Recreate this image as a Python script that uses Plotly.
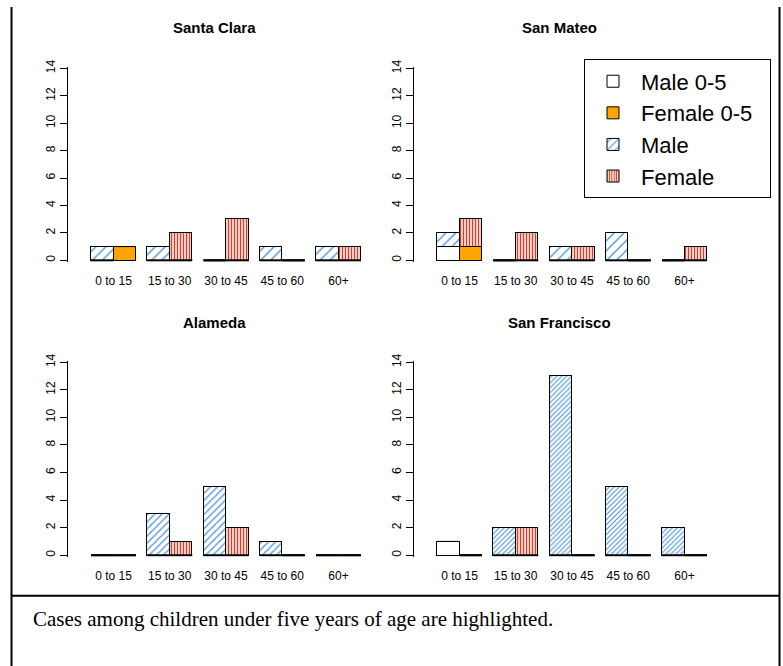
import plotly.graph_objects as go

# ---------------- data ----------------
age_groups = ["0 to 15", "15 to 30", "30 to 45", "45 to 60", "60+"]
counties = ["Santa Clara", "San Mateo", "Alameda", "San Francisco"]

# one row per county (same order as `counties`), one value per age group
male_under5 = [
    [0, 0, 0, 0, 0],
    [1, 0, 0, 0, 0],
    [0, 0, 0, 0, 0],
    [1, 0, 0, 0, 0],
]
female_under5 = [
    [1, 0, 0, 0, 0],
    [1, 0, 0, 0, 0],
    [0, 0, 0, 0, 0],
    [0, 0, 0, 0, 0],
]
male_other = [
    [1, 1, 0, 1, 1],
    [1, 0, 1, 2, 0],
    [0, 3, 5, 1, 0],
    [0, 2, 13, 5, 2],
]
female_other = [
    [0, 2, 3, 0, 1],
    [2, 2, 1, 0, 1],
    [0, 1, 2, 0, 0],
    [0, 2, 0, 0, 0],
]
y_ticks = [0, 2, 4, 6, 8, 10, 12, 14]
legend_names = ["Male 0-5", "Female 0-5", "Male", "Female"]
caption = "Cases among children under five years of age are highlighted."

# ---------------- styling / layout ----------------
W, H = 783, 666
SANS = "Arial, Liberation Sans, sans-serif"
SERIF = "Times New Roman, Liberation Serif, serif"
MALE_BLUE = "#4f95d8"
FEMALE_RED = "#d0402c"
ORANGE = "#ffa500"
male_hatch = [(7, 0.2), (7, 0.2), (5, 0.26), (3.5, 0.34)]  # (size, solidity) per panel
col_left = [68, 414]      # px of y-axis line
row_zero = [256, 554]     # px of y = 0
row_top = [62, 359]       # px of y = 14
dom_w = 316
first_center = 45.5       # px from axis line to first group centre
group_px = 56.25          # px per group
bar_w = 0.4
offs = {"m": -0.2, "f": 0.2}
pad = 0.12

fig = go.Figure()
layout_axes = {}

for k, county in enumerate(counties):
    r, c = divmod(k, 2)
    ax = "" if k == 0 else str(k + 1)
    xref, yref = "x" + ax, "y" + ax
    left = col_left[c]
    xr = [-first_center / group_px, (dom_w - first_center) / group_px]
    ppu = (row_zero[r] - row_top[r]) / 14.0
    bot_px = row_zero[r] + pad * ppu
    top_px = row_top[r] - pad * ppu
    layout_axes["xaxis" + ax] = dict(
        domain=[left / W, (left + dom_w) / W], range=xr, anchor=yref,
        showline=False, showgrid=False, zeroline=False,
        tickvals=list(range(len(age_groups))), ticktext=age_groups,
        ticks="", ticklabelstandoff=10,
        tickfont=dict(family=SANS, size=12, color="black"),
    )
    layout_axes["yaxis" + ax] = dict(
        domain=[1 - bot_px / H, 1 - top_px / H], range=[-pad, 14 + pad],
        anchor=xref, showline=True, linecolor="black", linewidth=1,
        showgrid=False, zeroline=False, tickvals=y_ticks,
        ticks="outside", ticklen=7, tickcolor="black", tickwidth=1,
        tickangle=-90, tickfont=dict(family=SANS, size=12, color="black"),
    )

    xs_m = [i + offs["m"] for i in range(len(age_groups))]
    xs_f = [i + offs["f"] for i in range(len(age_groups))]
    show = k == 0
    line = dict(color="black", width=1)
    msize, msol = male_hatch[k]

    fig.add_trace(go.Bar(
        x=xs_m, y=male_under5[k], width=bar_w, name=legend_names[0],
        legendgroup="m5", legendrank=1, showlegend=show,
        marker=dict(color="white", line=line), xaxis=xref, yaxis=yref))
    fig.add_trace(go.Bar(
        x=xs_f, y=female_under5[k], width=bar_w, name=legend_names[1] + "\u00a0\u00a0",
        legendgroup="f5", legendrank=2, showlegend=show,
        marker=dict(color=ORANGE, line=line), xaxis=xref, yaxis=yref))
    fig.add_trace(go.Bar(
        x=xs_m, y=male_other[k], width=bar_w, name=legend_names[2],
        legendgroup="m", legendrank=3, showlegend=show,
        marker=dict(color=MALE_BLUE, line=line,
                    pattern=dict(shape="/", fgcolor=MALE_BLUE, bgcolor="white",
                                 size=msize, solidity=msol, fillmode="replace")),
        xaxis=xref, yaxis=yref))
    fig.add_trace(go.Bar(
        x=xs_f, y=female_other[k], width=bar_w, name=legend_names[3],
        legendgroup="f", legendrank=4, showlegend=show,
        marker=dict(color=FEMALE_RED, line=line,
                    pattern=dict(shape="|", fgcolor=FEMALE_RED, bgcolor="#f9ddd8",
                                 size=3, solidity=0.4, fillmode="replace")),
        xaxis=xref, yaxis=yref))

    # zero-height segments are drawn by R as a flat black line at their base
    # (thick on the baseline, a plain border line when stacked on another segment)
    for want_ground, lw in ((True, 2), (False, 1)):
        zx, zy = [], []
        for i in range(len(age_groups)):
            for xo, lower, upper in ((offs["m"], male_under5[k][i], male_other[k][i]),
                                     (offs["f"], female_under5[k][i], female_other[k][i])):
                for base, val in ((0, lower), (lower, upper)):
                    if val == 0 and (base == 0) == want_ground:
                        zx += [i + xo - bar_w / 2, i + xo + bar_w / 2, None]
                        zy += [base, base, None]
        if zx:
            fig.add_trace(go.Scatter(
                x=zx, y=zy, mode="lines", line=dict(color="black", width=lw),
                showlegend=False, hoverinfo="skip", xaxis=xref, yaxis=yref,
                cliponaxis=False))

title_pos = [(214, 21), (559.5, 21), (214.5, 319), (559.5, 319)]
annotations = []
for county, (tx, ty) in zip(counties, title_pos):
    annotations.append(dict(
        text="<b>%s</b>" % county, x=tx / W, y=1 - ty / H, xref="paper",
        yref="paper", xanchor="center", yanchor="middle", showarrow=False,
        font=dict(family=SANS, size=15, color="black")))
annotations.append(dict(
    text=caption, x=31 / W, y=1 - 619 / H, xref="paper", yref="paper",
    xanchor="left", yanchor="middle", showarrow=False,
    font=dict(family=SERIF, size=21, color="black")))

frame = dict(color="black", width=2)
shapes = [
    dict(type="line", xref="paper", yref="paper", x0=11.5 / W, x1=11.5 / W,
         y0=0, y1=1, line=frame),
    dict(type="line", xref="paper", yref="paper", x0=779.5 / W, x1=779.5 / W,
         y0=0, y1=1, line=frame),
    dict(type="line", xref="paper", yref="paper", x0=11 / W, x1=780 / W,
         y0=1 - 595 / H, y1=1 - 595 / H, line=frame),
]

fig.update_layout(
    width=W, height=H, margin=dict(l=0, r=0, t=0, b=0, pad=0),
    paper_bgcolor="white", plot_bgcolor="white", barmode="stack",
    bargap=0, showlegend=True,
    legend=dict(x=584 / W, y=1 - 53 / H, xanchor="left", yanchor="top",
                bordercolor="black", borderwidth=1, bgcolor="white",
                font=dict(family=SANS, size=22, color="black"),
                itemwidth=46, traceorder="normal"),
    annotations=annotations, shapes=shapes,
    **layout_axes,
)

fig.write_html("out.html")
